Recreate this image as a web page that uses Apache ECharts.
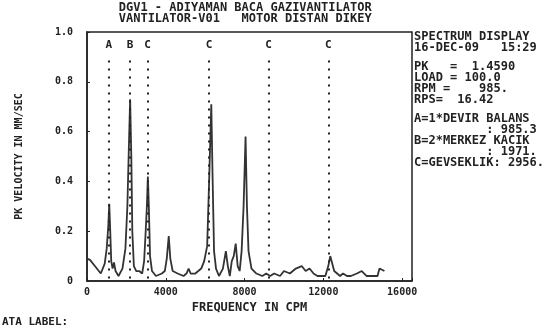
<!DOCTYPE html>
<html>
<head>
<meta charset="utf-8">
<script src="https://cdn.jsdelivr.net/npm/echarts@6/dist/echarts.min.js"></script>
<style>
  html, body { margin: 0; padding: 0; background: #fff; }
  #chart { width: 555px; height: 333px; }
</style>
</head>
<body>
<div id="chart"></div>
<script>
// spectrum trace, frequency in CPM / pk velocity in mm/sec
const freqs = [0, 150, 400, 700, 900, 1000, 1080, 1130, 1180, 1230, 1300, 1370, 1450, 1600, 1800, 1950, 2050, 2120, 2190, 2250, 2300, 2380, 2500, 2650, 2800, 2900, 2980, 3040, 3090, 3140, 3200, 3300, 3500, 3800, 3950, 4050, 4150, 4230, 4350, 4600, 4900, 5050, 5160, 5260, 5500, 5800, 5950, 6100, 6200, 6310, 6380, 6450, 6550, 6700, 6900, 7050, 7150, 7250, 7350, 7450, 7550, 7650, 7750, 7850, 7950, 8050, 8120, 8200, 8350, 8600, 8900, 9100, 9300, 9500, 9800, 10000, 10300, 10600, 10900, 11100, 11300, 11500, 11700, 11900, 12100, 12250, 12350, 12450, 12550, 12700, 12850, 13000, 13200, 13400, 13700, 13950, 14200, 14500, 14750, 14850, 14950, 15100]
const velocity = [0.09, 0.085, 0.06, 0.03, 0.07, 0.13, 0.22, 0.31, 0.2, 0.08, 0.05, 0.075, 0.04, 0.02, 0.05, 0.13, 0.3, 0.52, 0.73, 0.5, 0.2, 0.06, 0.04, 0.04, 0.03, 0.08, 0.2, 0.3, 0.42, 0.3, 0.1, 0.04, 0.02, 0.03, 0.04, 0.09, 0.18, 0.09, 0.04, 0.03, 0.02, 0.03, 0.05, 0.03, 0.03, 0.05, 0.08, 0.14, 0.4, 0.71, 0.4, 0.12, 0.05, 0.02, 0.05, 0.12, 0.06, 0.02, 0.08, 0.1, 0.15, 0.06, 0.04, 0.12, 0.3, 0.58, 0.3, 0.12, 0.05, 0.03, 0.02, 0.03, 0.02, 0.03, 0.02, 0.04, 0.03, 0.05, 0.06, 0.04, 0.05, 0.03, 0.02, 0.02, 0.02, 0.06, 0.1, 0.07, 0.04, 0.03, 0.02, 0.03, 0.02, 0.02, 0.03, 0.04, 0.02, 0.02, 0.02, 0.05, 0.055, 0.04]

// fault frequency markers
const markerNames = ["A", "B", "C", "C", "C", "C"]
const markerFreqs = [1110, 2180, 3080, 6200, 9220, 12250]

const titleLines = ["DGV1 - ADIYAMAN BACA GAZIVANTILATOR", "VANTILATOR-V01   MOTOR DISTAN DIKEY"]
const infoLines = ["SPECTRUM DISPLAY", "16-DEC-09   15:29", "", "PK   =  1.4590", "LOAD = 100.0", "RPM =    985.", "RPS=  16.42", "", "A=1*DEVIR BALANS", "          : 985.3", "B=2*MERKEZ KACIK", "          : 1971.", "C=GEVSEKLIK: 2956."]

const font = "'DejaVu Sans Mono', monospace"
const ink = "#222"

let myChart = echarts.init(document.getElementById("chart"))

let graphic = []
titleLines.forEach((t, i) => {
  graphic.push({
    type: "text", left: 250 - t.length * 3.75, top: 2 + i * 11,
    style: { text: t, font: "bold 12px " + font, fill: ink },
  })
})
let y = 31
infoLines.forEach((t) => {
  if (t === "") {
    y += 8
    return
  }
  graphic.push({
    type: "text", left: 414, top: y,
    style: { text: t, font: "bold 12px " + font, fill: ink },
  })
  y += 11
})
graphic.push({
  type: "text", left: 2, top: 317,
  style: { text: "ATA LABEL:", font: "bold 11px " + font, fill: ink },
})

myChart.setOption({
  animation: false,
  backgroundColor: "#fff",
  graphic: graphic,
  grid: {
    left: 87, right: 143, top: 32, bottom: 52,
    show: true, borderColor: ink, borderWidth: 1.5,
  },
  xAxis: {
    type: "value",
    min: 0, max: 16500, interval: 4000,
    name: "FREQUENCY IN CPM",
    nameLocation: "middle", nameGap: 17,
    nameTextStyle: { fontFamily: font, fontWeight: "bold", fontSize: 12, color: ink },
    axisLine: { lineStyle: { color: ink, width: 1.5 } },
    axisTick: { show: true, inside: true, length: 3, lineStyle: { color: ink } },
    splitLine: { show: false },
    axisLabel: {
      fontFamily: font, fontWeight: "bold", fontSize: 10, color: ink, margin: 6,
      formatter: (v) => (v % 4000 === 0 ? String(v) : ""),
    },
  },
  yAxis: {
    type: "value",
    min: 0, max: 1, interval: 0.2,
    name: "PK VELOCITY IN MM/SEC",
    nameLocation: "middle", nameGap: 63,
    nameTextStyle: { fontFamily: font, fontWeight: "bold", fontSize: 10, color: ink },
    axisLine: { show: true, lineStyle: { color: ink, width: 1.5 } },
    axisTick: { show: true, inside: true, length: 3, lineStyle: { color: ink } },
    splitLine: { show: false },
    axisLabel: {
      fontFamily: font, fontWeight: "bold", fontSize: 10, color: ink, margin: 14,
      formatter: (v) => (v === 0 ? "0" : v.toFixed(1)),
    },
  },
  series: [
    {
      type: "line",
      data: freqs.map((f, i) => [f, velocity[i]]),
      showSymbol: false,
      lineStyle: { color: "#333", width: 1.8 },
      markLine: {
        silent: true,
        symbol: "none",
        lineStyle: { color: ink, type: [2, 6], width: 2 },
        label: {
          position: "end", distance: 4,
          fontFamily: font, fontWeight: "bold", fontSize: 11, color: ink,
        },
        data: markerFreqs.map((f, i) => [
          { coord: [f, 0.01], name: markerNames[i] },
          { coord: [f, 0.91], label: { formatter: markerNames[i] } },
        ]),
      },
    },
  ],
})
</script>
</body>
</html>
